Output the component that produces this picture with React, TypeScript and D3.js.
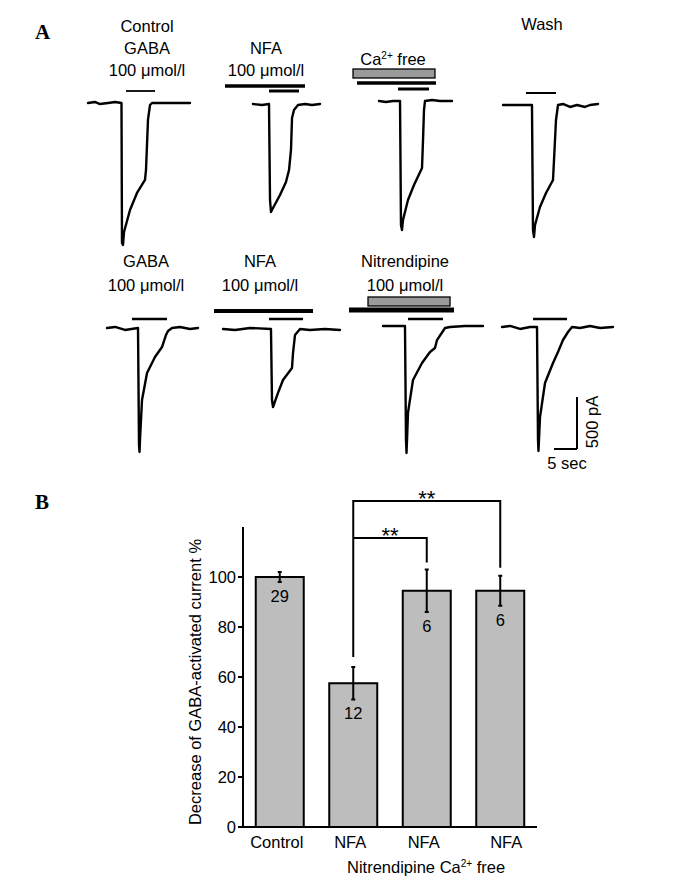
import React from 'react'
import * as d3 from 'd3'

// ---- Panel A: GABA-activated currents (time in s from trace start, current in pA) ----
const traceControl = [[0,0],[1.5,10],[2.6,-10],[4.35,0],[5.9,10],[7.28,0],[7.39,-1346],[7.61,-1365],[7.83,-1240],[9.13,-1029],[10.65,-865],[12.39,-740],[12.61,-644],[13.04,-163],[13.48,-19],[13.9,0],[18,0],[22.17,0]]
const traceNfa = [[0,0],[1.96,-10],[3.48,0],[3.7,-923],[3.91,-1038],[4.35,-1000],[5.87,-875],[7.17,-750],[7.83,-635],[8.26,-442],[8.48,-135],[8.91,-58],[9.78,-10],[11.3,0],[12.83,-10],[14.57,0]]
const traceCaFree = [[0,0],[1.52,-10],[3.04,0],[4.57,0],[4.78,-1192],[5.0,-1240],[5.22,-1144],[6.3,-952],[7.61,-808],[9.35,-644],[9.57,-375],[9.78,-87],[10.0,0],[11.52,10],[13.26,0],[15.87,0]]
const traceWash = [[0,0],[3.7,0],[6.3,0],[6.52,-1202],[6.74,-1269],[6.96,-1154],[8.04,-981],[9.35,-846],[10.87,-721],[11.09,-529],[11.52,-144],[11.96,0],[13.04,10],[14.57,-19],[16.09,0],[17.83,-19],[18.91,0],[20.65,10]]
const traceGaba2 = [[0,0],[1.74,10],[3.91,-19],[6.74,0],[6.96,-1125],[7.07,-1192],[7.17,-1077],[7.61,-692],[8.7,-433],[10.43,-279],[11.96,-183],[12.83,-67],[13.26,-29],[14.13,0],[15.87,10],[18.04,-10],[19.78,0]]
const traceNfa2 = [[0,0],[2.61,-10],[5.87,10],[10.43,0],[10.65,-683],[10.87,-750],[11.96,-615],[13.04,-490],[15.0,-375],[15.22,-231],[15.65,-58],[16.74,0],[18.91,-10],[22.17,0],[25.43,-10]]
const traceNitrendipine = [[0,0],[4.78,0],[5.0,-1096],[5.11,-1221],[5.22,-1096],[5.43,-836],[6.52,-519],[8.48,-356],[10.22,-250],[11.3,-212],[11.74,-135],[13.48,-19],[14.57,-10],[17.83,0],[21.74,0]]
const traceWash2 = [[0,0],[1.74,10],[3.91,-19],[6.09,0],[7.61,0],[7.83,-1087],[7.93,-1192],[8.04,-1087],[8.26,-865],[9.35,-538],[11.09,-346],[12.17,-240],[13.26,-125],[14.35,-48],[15.22,0],[16.96,-10],[19.13,10],[21.3,-10],[24.13,0]]

// drug application windows (s, relative to trace start)
const gabaOn = [8.26, 3.48, 4.13, 5.0, 5.43, 10.0, 5.43, 6.74]
const gabaOff = [14.57, 10.0, 10.87, 11.52, 13.04, 17.39, 13.04, 14.13]
const nfaWindows: Record<number, number[]> = { 1: [-6.09, 11.3], 2: [-4.78, 12.39], 5: [-1.96, 19.57], 6: [-7.39, 15.43] }
const boxWindows: Record<number, number[]> = { 2: [-5.65, 12.17], 6: [-3.26, 14.57] }

const scaleBarTime = 5
const scaleBarCurrent = 500

// ---- Panel B ----
const categories = ['Control', 'NFA', 'NFA', 'NFA']
const decrease = [100, 57.5, 94.5, 94.5]
const errors = [2, 6.5, 8.5, 6]
const nCells = [29, 12, 6, 6]
const yTicks = [0, 20, 40, 60, 80, 100]

const FONT = '"Liberation Sans", Arial, sans-serif'
const FS = 16.5

const traces = [traceControl, traceNfa, traceCaFree, traceWash, traceGaba2, traceNfa2, traceNitrendipine, traceWash2]
const layout = [
  { x0: 88, base: 103, gabaY: 91, gabaW: 1.8 },
  { x0: 253, base: 104, gabaY: 91, gabaW: 3, nfaY: 86, nfaW: 3.5 },
  { x0: 379, base: 101, gabaY: 89, gabaW: 3, nfaY: 83, nfaW: 3.5, boxY: 69, boxH: 9 },
  { x0: 503, base: 105, gabaY: 93, gabaW: 2 },
  { x0: 107, base: 328, gabaY: 319, gabaW: 2.5 },
  { x0: 223, base: 329, gabaY: 319, gabaW: 2.5, nfaY: 311, nfaW: 4 },
  { x0: 383, base: 326, gabaY: 319, gabaW: 2.5, nfaY: 310, nfaW: 5, boxY: 297, boxH: 9 },
  { x0: 502, base: 327, gabaY: 319, gabaW: 2.5 },
]

export default function App() {
  // 5 s = 23 px, 500 pA = 52 px
  const t = d3.scaleLinear().domain([0, 5]).range([0, 23])
  const cur = d3.scaleLinear().domain([0, -500]).range([0, 52])
  const line = d3.line<number[]>().x(d => t(d[0])).y(d => cur(d[1]))

  const x = d3.scaleBand<string>()
    .domain(categories.map((_, i) => String(i)))
    .range([243, 537])
    .paddingInner(0.347)
    .paddingOuter(0.1735)
  const y = d3.scaleLinear().domain([0, 120]).range([827, 527])
  const cx = (i: number) => x(String(i))! + x.bandwidth() / 2

  const txt = (s: string, tx: number, ty: number, extra: any = {}) => (
    <text x={tx} y={ty} dy="0.35em" textAnchor="middle" fontFamily={FONT} fontSize={FS} {...extra}>{s}</text>
  )

  const outerY = 501
  const innerY = 538

  return (
    <svg width={688} height={882} style={{ position: 'absolute', left: 0, top: 0, background: '#fff' }}>
      {/* panel letters */}
      <text x={35} y={39} fontFamily='"Liberation Serif", "Times New Roman", serif' fontWeight="bold" fontSize={21}>A</text>
      <text x={35} y={509} fontFamily='"Liberation Serif", "Times New Roman", serif' fontWeight="bold" fontSize={21}>B</text>

      {/* labels panel A */}
      {txt('Control', 147, 26)}
      {txt('GABA', 147, 48)}
      {txt('100 μmol/l', 147, 70)}
      {txt('NFA', 266, 48)}
      {txt('100 μmol/l', 266, 70)}
      <text x={393} y={59} dy="0.35em" textAnchor="middle" fontFamily={FONT} fontSize={FS}>
        Ca<tspan fontSize={10} dy={-6}>2+</tspan><tspan dy={6}> free</tspan>
      </text>
      {txt('Wash', 542, 24)}
      {txt('GABA', 146, 261)}
      {txt('100 μmol/l', 146, 285)}
      {txt('NFA', 260, 261)}
      {txt('100 μmol/l', 260, 285)}
      {txt('Nitrendipine', 405, 261)}
      {txt('100 μmol/l', 405, 285)}

      {traces.map((pts, i) => {
        const L = layout[i]
        const nfa = nfaWindows[i]
        const box = boxWindows[i]
        return (
          <g key={i}>
            {box && (
              <rect x={L.x0 + t(box[0])} y={L.boxY} width={t(box[1]) - t(box[0])} height={L.boxH}
                fill="#9a9a9a" stroke="#000" strokeWidth={1.3} />
            )}
            {nfa && (
              <line x1={L.x0 + t(nfa[0])} x2={L.x0 + t(nfa[1])} y1={L.nfaY} y2={L.nfaY} stroke="#000" strokeWidth={L.nfaW} />
            )}
            <line x1={L.x0 + t(gabaOn[i])} x2={L.x0 + t(gabaOff[i])} y1={L.gabaY} y2={L.gabaY} stroke="#000" strokeWidth={L.gabaW} />
            <path transform={`translate(${L.x0},${L.base})`} d={line(pts) || ''} fill="none" stroke="#000"
              strokeWidth={2.4} strokeLinejoin="round" strokeLinecap="round" />
          </g>
        )
      })}

      {/* scale bar */}
      <g transform="translate(577,449)" fill="none" stroke="#000" strokeWidth={2}>
        <line x1={0} x2={0} y1={0} y2={-cur(-scaleBarCurrent)} />
        <line x1={-t(scaleBarTime)} x2={0} y1={0} y2={0} />
      </g>
      <text transform="translate(592,422) rotate(-90)" dy="0.35em" textAnchor="middle" fontFamily={FONT} fontSize={FS}>{`${scaleBarCurrent} pA`}</text>
      {txt(`${scaleBarTime} sec`, 567, 463)}

      {/* Panel B: bars */}
      {decrease.map((v, i) => (
        <rect key={i} x={x(String(i))} y={y(v)} width={x.bandwidth()} height={y(0) - y(v)}
          fill="#bdbdbd" stroke="#000" strokeWidth={2} />
      ))}
      {decrease.map((v, i) => (
        <g key={'e' + i} stroke="#000" strokeWidth={2}>
          <line x1={cx(i)} x2={cx(i)} y1={y(v + errors[i])} y2={y(v - errors[i])} />
          <line x1={cx(i) - 2} x2={cx(i) + 2} y1={y(v + errors[i])} y2={y(v + errors[i])} />
          <line x1={cx(i) - 2} x2={cx(i) + 2} y1={y(v - errors[i])} y2={y(v - errors[i])} />
        </g>
      ))}
      {nCells.map((n, i) => txt(String(n), cx(i), y(decrease[i] - errors[i]) + 14, { key: 'n' + i }))}

      {/* axes */}
      <line x1={243} x2={243} y1={y(0)} y2={y(120)} stroke="#000" strokeWidth={2} />
      <line x1={242} x2={537} y1={y(0)} y2={y(0)} stroke="#000" strokeWidth={2} />
      {yTicks.map(v => (
        <g key={v}>
          <line x1={238} x2={243} y1={y(v)} y2={y(v)} stroke="#000" strokeWidth={2} />
          <text x={236} y={y(v)} dy="0.35em" textAnchor="end" fontFamily={FONT} fontSize={FS}>{v}</text>
        </g>
      ))}
      {categories.map((c, i) => txt(c, cx(i) + (i === 3 ? 6 : -3), 842, { key: 'c' + i }))}
      <text x={347} y={867} dy="0.35em" fontFamily={FONT} fontSize={FS}>
        Nitrendipine Ca<tspan fontSize={10} dy={-6}>2+</tspan><tspan dy={6}> free</tspan>
      </text>
      <text transform="translate(195,682) rotate(-90)" dy="0.35em" textAnchor="middle" fontFamily={FONT} fontSize={FS}>
        Decrease of GABA-activated current %
      </text>

      {/* significance brackets */}
      <g fill="none" stroke="#000" strokeWidth={2}>
        <path d={`M${cx(1)},${y(decrease[1] + errors[1]) - 10}V${outerY}H${cx(3)}V${y(decrease[3] + errors[3]) - 8}`} />
        <path d={`M${cx(1)},${innerY}H${cx(2)}V${y(decrease[2] + errors[2]) - 7}`} />
      </g>
      <text x={(cx(1) + cx(3)) / 2} y={506} textAnchor="middle" fontFamily={FONT} fontSize={22}>**</text>
      <text x={(cx(1) + cx(2)) / 2} y={543} textAnchor="middle" fontFamily={FONT} fontSize={22}>**</text>
    </svg>
  )
}
